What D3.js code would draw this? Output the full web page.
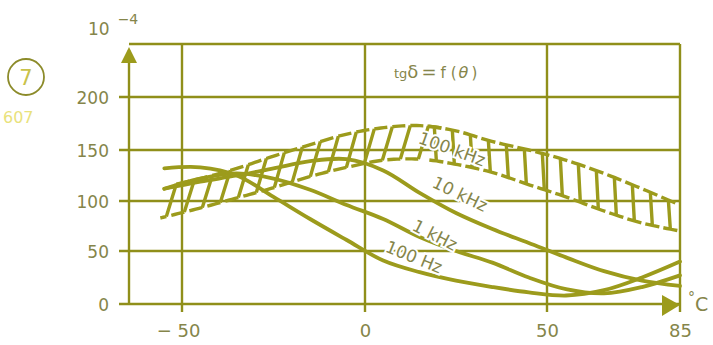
<!DOCTYPE html>
<html>
<head>
<meta charset="utf-8">
<script src="https://cdn.jsdelivr.net/npm/d3@7"></script>
<style>
  html, body { margin: 0; padding: 0; background: #fff; }
  svg { display: block; }
  text { font-family: "DejaVu Sans", sans-serif; }
</style>
</head>
<body>
<svg id="chart" width="713" height="345"></svg>
<script>
// Temperatures (°C) at which the curves are read
const temps = [-55, -45, -35, -25, -15, -5, 5, 15, 25, 35, 45, 55, 65, 75, 85];

// tg δ (×10⁻⁴) per frequency
const hz100  = [132, 133, 125, 104, 82, 61, 41, 30, 22, 16, 11, 8, 13, 25, 40];
const khz1   = [112, 122, 127, 122, 111, 96, 82, 64, 50, 39, 25, 14, 10, 16, 27];
const khz10  = [112, 119, 125, 132, 139, 141, 130, 108, 88, 72, 58, 44, 31, 22, 17];

// 100 kHz spread band: upper and lower limits
const khz100Upper = [114, 122, 132, 144, 155, 165, 171, 173, 168, 158, 150, 140, 127, 112, 96];
const khz100Lower = [84, 93, 103, 113, 124, 133, 140, 141, 136, 128, 116, 104, 90, 78, 70];

// Axis ticks
const xTicks = [-50, 0, 50, 85];
const yTicks = [0, 50, 100, 150, 200];

const curveLabels = ["100 kHz", "10 kHz", "1 kHz", "100 Hz"];

const ink = "#9c9b1c";
const gridInk = "#908f1a";
const textInk = "#85854a";

const svg = d3.select("#chart");

const x = d3.scaleLinear().domain([-65, -50, 0, 50, 85]).range([129, 182, 365, 547, 680]);
const y = d3.scaleLinear().domain([0, 50, 100, 150, 200, 250]).range([304, 251, 201, 150, 97, 44]);

const xL = x(-65), xR = x(85), yB = y(0), yT = y(250);

// grid
const grid = svg.append("g").attr("stroke", gridInk).attr("stroke-width", 2.4);
yTicks.forEach(v => {
  grid.append("line").attr("x1", xL - 10).attr("x2", xR).attr("y1", y(v)).attr("y2", y(v));
});
grid.append("line").attr("x1", xL).attr("x2", xR).attr("y1", yT).attr("y2", yT);
xTicks.forEach(v => {
  grid.append("line").attr("x1", x(v)).attr("x2", x(v)).attr("y1", yT).attr("y2", yB + 8);
});
// y axis
grid.append("line").attr("x1", xL).attr("x2", xL).attr("y1", yB).attr("y2", yT + 6);

// arrows
svg.append("path")
  .attr("d", `M${xL},${yT + 3} L${xL - 8},${yT + 19} L${xL + 8},${yT + 19} Z`)
  .attr("fill", ink);
svg.append("path")
  .attr("d", `M${xR},${yB + 1} L${xR - 18},${yB - 9} L${xR - 18},${yB + 12} Z`)
  .attr("fill", ink);

// axis labels
const yAxis = d3.axisLeft(y).tickValues(yTicks).tickSize(0).tickPadding(20);
const gy = svg.append("g").attr("transform", `translate(${xL},0)`).call(yAxis);
gy.select(".domain").remove();
gy.selectAll("text").attr("font-size", 17).attr("fill", textInk)
  .attr("font-family", "DejaVu Sans, sans-serif").attr("dy", "0.36em");

const xAxis = d3.axisBottom(x).tickValues(xTicks).tickSize(0).tickPadding(20)
  .tickFormat(d => d < 0 ? "\u2212 " + Math.abs(d) : String(d));
const gx = svg.append("g").attr("transform", `translate(0,${yB})`).call(xAxis);
gx.select(".domain").remove();
gx.selectAll("text").attr("font-size", 18).attr("fill", textInk)
  .attr("font-family", "DejaVu Sans, sans-serif")
  .attr("dx", d => d < 0 ? -4 : 0);

// unit labels
const unit = svg.append("text").attr("x", 88).attr("y", 35).attr("fill", textInk).attr("font-size", 17);
unit.append("tspan").text("10");
unit.append("tspan").attr("dx", 8).attr("dy", -11).attr("font-size", 14).text("\u22124");

const deg = svg.append("text").attr("x", 688).attr("y", 311).attr("fill", textInk).attr("font-size", 19);
deg.append("tspan").attr("dy", -9).attr("font-size", 14).text("\u00b0");
deg.append("tspan").attr("dy", 9).text("C");

// title
const title = svg.append("text").attr("x", 394).attr("y", 78).attr("fill", textInk).attr("font-size", 13);
title.append("tspan").text("tg");
title.append("tspan").attr("font-size", 18).text("\u03b4");
title.append("tspan").attr("font-size", 18).attr("dx", 3).text("=");
title.append("tspan").attr("font-size", 15).attr("dx", 4).text("f");
title.append("tspan").attr("font-size", 15).attr("dx", 5).text("(");
title.append("tspan").attr("font-size", 16).attr("font-style", "italic").attr("dx", 2).text("\u03b8");
title.append("tspan").attr("font-size", 15).attr("dx", 3).text(")");

// figure number badge
svg.append("circle").attr("cx", 26).attr("cy", 77).attr("r", 18)
  .attr("fill", "none").attr("stroke", "#8c8b2a").attr("stroke-width", 1.8);
svg.append("text").attr("x", 26).attr("y", 85).attr("text-anchor", "middle")
  .attr("font-size", 21).attr("fill", "#c9c24a").text("7");
svg.append("text").attr("x", 3).attr("y", 123).attr("font-size", 16)
  .attr("fill", "#e9e27c").text("607");

// curves
const line = d3.line()
  .x((d, i) => x(temps[i]))
  .y(d => y(d))
  .curve(d3.curveCatmullRom.alpha(0.5));

const curves = svg.append("g").attr("fill", "none").attr("stroke", ink)
  .attr("stroke-width", 3.8).attr("stroke-linecap", "round");
[khz10, khz1, hz100].forEach(series => {
  curves.append("path").attr("d", line(series));
});

// 100 kHz band: edges sampled along the smoothed paths, then drawn as hatched cells
function edgeSampler(series) {
  const p = svg.append("path").attr("d", line(series)).attr("fill", "none").attr("stroke", "none");
  const node = p.node();
  const L = node.getTotalLength();
  const pts = [];
  for (let l = 0; l <= L; l += 0.5) pts.push(node.getPointAtLength(l));
  p.remove();
  const bis = d3.bisector(d => d.x).left;
  return px => {
    let i = Math.max(1, Math.min(pts.length - 1, bis(pts, px)));
    const a = pts[i - 1], b = pts[i];
    const t = b.x === a.x ? 0 : (px - a.x) / (b.x - a.x);
    return a.y + t * (b.y - a.y);
  };
}
const upperY = edgeSampler(khz100Upper);
const lowerY = edgeSampler(khz100Lower);

const band = svg.append("g").attr("fill", "none").attr("stroke", ink)
  .attr("stroke-width", 3.4).attr("stroke-linecap", "butt").attr("stroke-linejoin", "miter");
const segLine = d3.line();
const x0 = x(-55) + 2, x1 = x(85) - 4;
const switchX = x(15);
function seg(f, a, b) {
  const pts = [];
  for (let t = a; t <= b + 0.01; t += (b - a) / 4) pts.push([t, f(t)]);
  return segLine(pts);
}
for (let xb = x0; xb <= x1; xb += 18) {
  if (xb < switchX) {
    // slanted Z-shaped cells
    const xt = Math.min(xb + 10, x1);
    band.append("path").attr("d",
      seg(lowerY, Math.max(x0 - 6, xb - 13), xb) +
      "M" + xb + "," + lowerY(xb) + "L" + xt + "," + upperY(xt) +
      seg(upperY, xt, Math.min(xt + 13, x1 + 4)));
  } else {
    // upright I-shaped cells
    const xt = xb - 2;
    band.append("path").attr("d",
      seg(lowerY, xb - 7, Math.min(xb + 7, x1 + 4)) +
      "M" + xb + "," + lowerY(xb) + "L" + xt + "," + upperY(xt) +
      seg(upperY, xt - 7, Math.min(xt + 7, x1 + 4)));
  }
}

// curve labels
const labelPos = [
  { cx: 452, cy: 149, a: 20, s: 17 },
  { cx: 460, cy: 194, a: 26, s: 17 },
  { cx: 435, cy: 235, a: 27, s: 17 },
  { cx: 414, cy: 257, a: 22, s: 17 }
];
curveLabels.forEach((t, i) => {
  const p = labelPos[i];
  svg.append("text")
    .attr("transform", `translate(${p.cx},${p.cy}) rotate(${p.a})`)
    .attr("text-anchor", "middle").attr("dy", "0.35em")
    .attr("font-size", p.s).attr("fill", textInk)
    .attr("stroke", "#fff").attr("stroke-width", 4).attr("paint-order", "stroke")
    .text(t);
});
</script>
</body>
</html>
